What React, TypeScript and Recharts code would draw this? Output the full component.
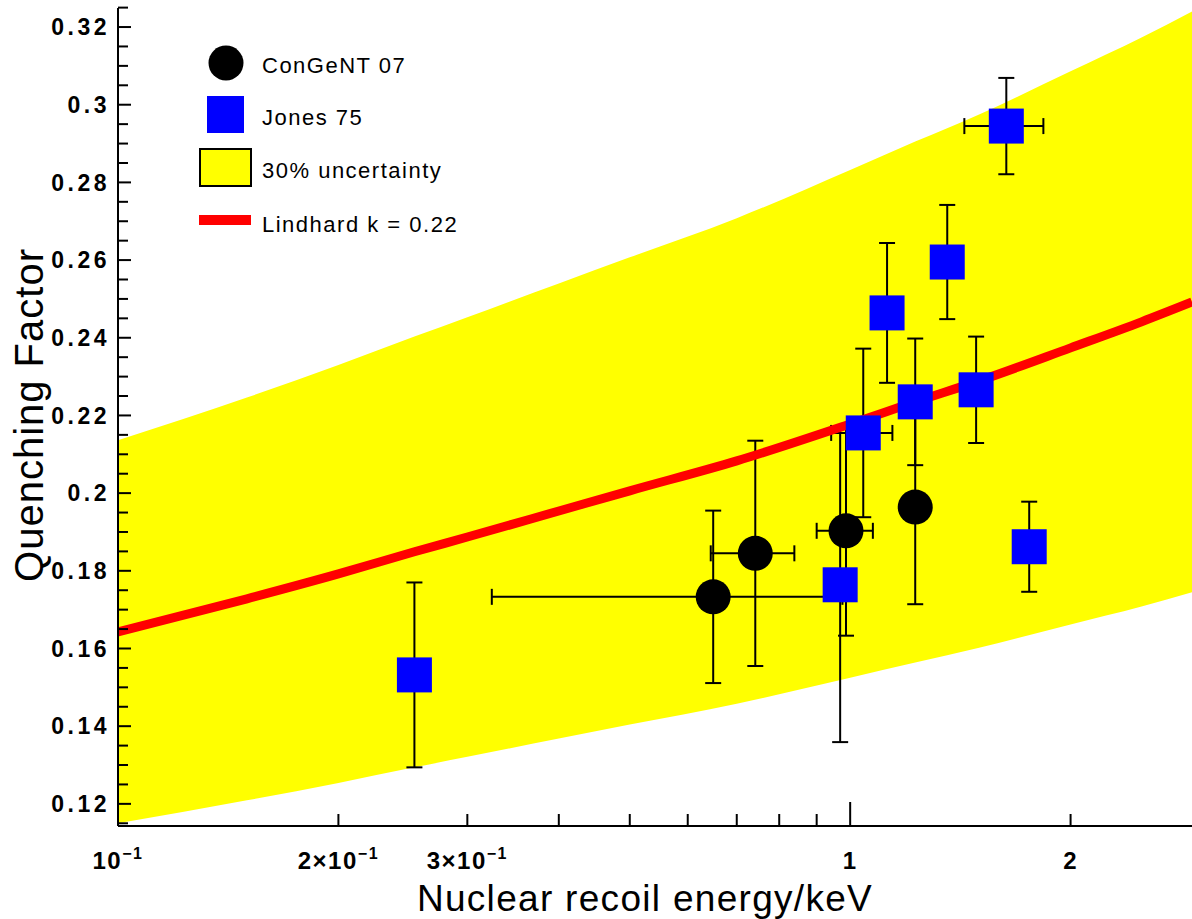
import React from 'react';
import { ComposedChart, Area, Line, Scatter, ErrorBar, XAxis, YAxis } from 'recharts';

// Lindhard curve and the 30% band
const curveEnergy = [0.1, 0.15, 0.2, 0.254, 0.3, 0.4, 0.5, 0.7, 1.0, 1.227, 1.5, 2.0, 2.5, 2.93];
const lindhard = [0.1643, 0.1728, 0.1792, 0.1849, 0.1887, 0.1954, 0.2006, 0.2083, 0.2178, 0.2235, 0.2289, 0.2374, 0.2441, 0.2492];
const bandUpper = [0.2136, 0.2246, 0.233, 0.2403, 0.2453, 0.254, 0.2607, 0.2708, 0.2832, 0.2905, 0.2975, 0.3086, 0.3173, 0.324];
const bandLower = [0.115, 0.1209, 0.1254, 0.1294, 0.1321, 0.1368, 0.1404, 0.1458, 0.1525, 0.1564, 0.1602, 0.1662, 0.1708, 0.1745];

// ConGeNT 07
const congentE = [0.65, 0.742, 0.987, 1.227];
const congentQ = [0.1733, 0.1845, 0.1903, 0.1964];
const congentQErr = [0.0222, 0.029, 0.027, 0.025];
const congentEErr = [0.326, 0.097, 0.087, 0];

// Jones 75
const jonesE = [0.254, 0.969, 1.042, 1.123, 1.227, 1.357, 1.486, 1.634, 1.756];
const jonesQ = [0.1532, 0.1764, 0.2155, 0.2464, 0.2235, 0.2595, 0.2266, 0.2945, 0.1862];
const jonesQErr = [0.0238, 0.0405, 0.0217, 0.018, 0.0163, 0.0147, 0.0137, 0.0124, 0.0116];
const jonesEErr = [0, 0, 0.1, 0, 0, 0, 0, 0.202, 0];

// axes
const xTicks = [0.1, 0.2, 0.3, 0.4, 0.5, 0.6, 0.7, 0.8, 0.9, 1, 2];
const xLabels: Record<string, [string, string]> = {
  '0.1': ['10', '\u22121'],
  '0.2': ['2\u00d710', '\u22121'],
  '0.3': ['3\u00d710', '\u22121'],
  '1': ['1', ''],
  '2': ['2', ''],
};
const yLabels = [0.12, 0.14, 0.16, 0.18, 0.2, 0.22, 0.24, 0.26, 0.28, 0.3, 0.32];
const yTicks = [
  0.115, 0.12, 0.125, 0.13, 0.135, 0.14, 0.145, 0.15, 0.155, 0.16, 0.165, 0.17, 0.175, 0.18,
  0.185, 0.19, 0.195, 0.2, 0.205, 0.21, 0.215, 0.22, 0.225, 0.23, 0.235, 0.24, 0.245, 0.25,
  0.255, 0.26, 0.265, 0.27, 0.275, 0.28, 0.285, 0.29, 0.295, 0.3, 0.305, 0.31, 0.315, 0.32, 0.325,
];

const curveData = curveEnergy.map((e, i) => ({
  e,
  q: lindhard[i],
  band: [bandLower[i], bandUpper[i]],
}));
const congentData = congentE.map((e, i) => ({ e, q: congentQ[i], qErr: congentQErr[i], eErr: congentEErr[i] }));
const jonesData = jonesE.map((e, i) => ({ e, q: jonesQ[i], qErr: jonesQErr[i], eErr: jonesEErr[i] }));

const FONT = '"Liberation Sans", Arial, Helvetica, sans-serif';

const XTick = (props: any) => {
  const { x, y, payload } = props;
  const v = payload.value;
  const major = Math.abs(v - 1) < 1e-6;
  const lab = xLabels[String(v)];
  return (
    <g>
      <line x1={x} x2={x} y1={y} y2={y - (major ? 24 : 12)} stroke="#000" strokeWidth={2} />
      {lab && (
        <text x={x} y={y + 43} textAnchor="middle" fontFamily={FONT} fontWeight="bold" fontSize={24} letterSpacing={1.5} fill="#000">
          {lab[0]}
          {lab[1] && (
            <tspan fontSize={16} dy={-10}>
              {lab[1]}
            </tspan>
          )}
        </text>
      )}
    </g>
  );
};

const YTick = (props: any) => {
  const { x, y, payload } = props;
  const v = payload.value;
  const major = yLabels.some((l) => Math.abs(l - v) < 1e-6);
  return (
    <g>
      <line x1={x} x2={x + (major ? 13 : 10)} y1={y} y2={y} stroke="#000" strokeWidth={2} />
      {major && (
        <text x={x - 8} y={y} dy="0.36em" textAnchor="end" fontFamily={FONT} fontWeight="bold" fontSize={23} letterSpacing={3.5} fill="#000">
          {String(Math.round(v * 100) / 100)}
        </text>
      )}
    </g>
  );
};

const Dot = (props: any) => <circle cx={props.cx} cy={props.cy} r={17.5} fill="#000" />;
const Box = (props: any) => <rect x={props.cx - 17.5} y={props.cy - 17.5} width={35} height={35} fill="#0000ff" />;

export default function App() {
  return (
    <div style={{ position: 'absolute', left: 0, top: 0, width: 1192, height: 919, background: '#fff' }}>
      <ComposedChart width={1192} height={919} data={curveData} margin={{ top: 8, right: 0, bottom: 0, left: 0 }}>
        <XAxis
          dataKey="e"
          type="number"
          scale="log"
          domain={[0.1, 2.93]}
          allowDataOverflow
          ticks={xTicks}
          interval={0}
          height={93}
          tickSize={0}
          tickMargin={0}
          tickLine={false}
          axisLine={{ stroke: '#000', strokeWidth: 2 }}
          tick={<XTick />}
        />
        <YAxis
          type="number"
          domain={[0.1143, 0.3249]}
          allowDataOverflow
          ticks={yTicks}
          interval={0}
          width={118}
          tickSize={0}
          tickMargin={0}
          tickLine={false}
          axisLine={{ stroke: '#000', strokeWidth: 2 }}
          tick={<YTick />}
        />
        <Area dataKey="band" type="monotone" fill="#ffff00" fillOpacity={1} stroke="none" isAnimationActive={false} />
        <Scatter data={congentData} dataKey="q" shape={<Dot />} isAnimationActive={false}>
          <ErrorBar dataKey="qErr" direction="y" stroke="#000" strokeWidth={2} width={8} />
          <ErrorBar dataKey="eErr" direction="x" stroke="#000" strokeWidth={2} width={8} />
        </Scatter>
        <Scatter data={jonesData} dataKey="q" shape={<Box />} isAnimationActive={false}>
          <ErrorBar dataKey="qErr" direction="y" stroke="#000" strokeWidth={2} width={8} />
          <ErrorBar dataKey="eErr" direction="x" stroke="#000" strokeWidth={2} width={8} />
        </Scatter>
        <Line dataKey="q" type="monotone" stroke="#ff0000" strokeWidth={9} dot={false} activeDot={false} isAnimationActive={false} />
      </ComposedChart>
      <svg width={1192} height={919} style={{ position: 'absolute', left: 0, top: 0, pointerEvents: 'none' }}>
        {/* legend */}
        <circle cx={226} cy={63} r={17.5} fill="#000" />
        <rect x={207} y={96} width={37} height={37} fill="#0000ff" />
        <rect x={200} y={149} width={51} height={37} fill="#ffff00" stroke="#000" strokeWidth={2} />
        <rect x={199} y={215} width={52} height={10} fill="#ff0000" />
        <g fontFamily={FONT} fontSize={22} letterSpacing={1.5} fill="#000">
          <text x={262} y={73}>ConGeNT 07</text>
          <text x={262} y={125}>Jones 75</text>
          <text x={262} y={178}>30% uncertainty</text>
          <text x={262} y={232}>Lindhard k = 0.22</text>
        </g>
        <text x={645} y={911} textAnchor="middle" fontFamily={FONT} fontSize={37} letterSpacing={1.3} fill="#000">
          Nuclear recoil energy/keV
        </text>
        <text
          x={43}
          y={415}
          transform="rotate(-90 43 415)"
          textAnchor="middle"
          fontFamily={FONT}
          fontSize={40}
          letterSpacing={1}
          fill="#000"
        >
          Quenching Factor
        </text>
      </svg>
    </div>
  );
}
